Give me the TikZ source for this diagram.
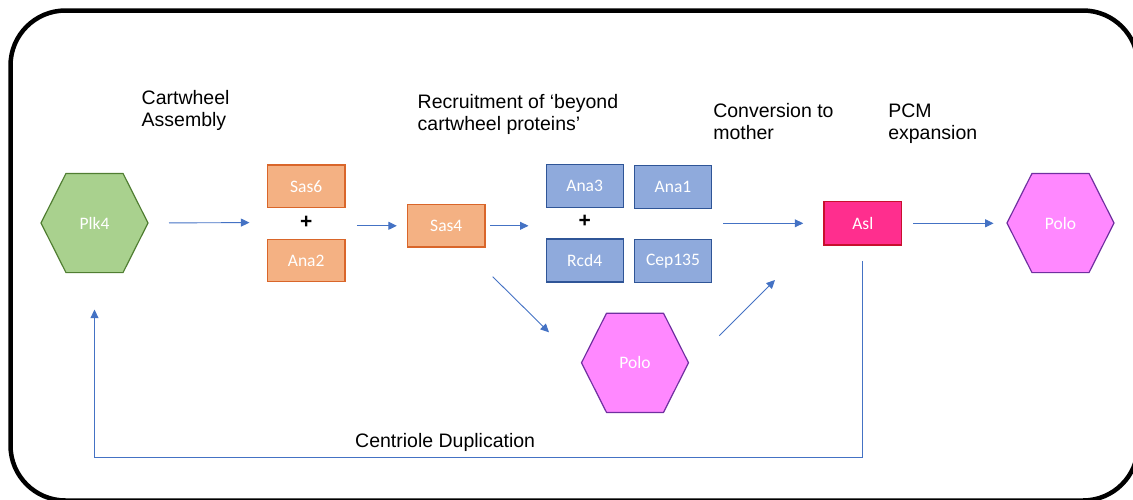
\documentclass[tikz,border=0pt]{standalone}
\usepackage{fontspec}
\setmainfont{Liberation Sans}
\newfontfamily\boxfont{Carlito}
\usetikzlibrary{arrows.meta,backgrounds,calc}
\definecolor{arrblue}{HTML}{4472C4}
\definecolor{orfill}{HTML}{F4B183}
\definecolor{ordraw}{HTML}{D9662A}
\definecolor{blfill}{HTML}{8FAADC}
\definecolor{bldraw}{HTML}{2F5597}
\definecolor{aslfill}{HTML}{FF2E8E}
\definecolor{asldraw}{HTML}{C8102E}
\definecolor{pofill}{HTML}{FF88FF}
\definecolor{podraw}{HTML}{7030A0}
\definecolor{grfill}{HTML}{A9D18E}
\definecolor{grdraw}{HTML}{507E32}
\tikzset{
  prot/.style={rectangle, inner sep=0pt, outer sep=0pt, line width=1.2pt,
    text=white, font=\boxfont\fontsize{17.5}{20}\selectfont},
  orbox/.style={prot, fill=orfill, draw=ordraw, minimum width=77.5pt, minimum height=42.5pt},
  blbox/.style={prot, fill=blfill, draw=bldraw, minimum width=77pt, minimum height=43pt},
  aslbox/.style={prot, fill=aslfill, draw=asldraw, minimum width=77.7pt, minimum height=43.3pt},
  hexnode/.style={prot, minimum width=107pt, minimum height=99.2pt},
  plussign/.style={inner sep=0pt, outer sep=0pt, minimum width=77.5pt,
    font=\bfseries\fontsize{21}{22}\selectfont},
  lbl/.style={inner sep=0pt, outer sep=0pt, anchor=north west, align=left,
    font=\fontsize{19.5}{22}\selectfont},
  arr/.style={draw=arrblue, line width=0.9pt, -{Triangle[length=8.5pt,width=8pt]}},
}
\begin{document}
\begin{tikzpicture}[x=1pt,y=-1pt]
\useasboundingbox (0,0) rectangle (1133,499);
\clip (0,0) rectangle (1133,499);
\draw[line width=4.5pt, rounded corners=55pt] (10.5,10.5) rectangle (1138,500.5);

% labels
\node[lbl] (lab1) at (141.7,90.5) {Cartwheel\\Assembly};
\node[lbl] (lab2) at (417.7,94.5) {Recruitment of ‘beyond\\cartwheel proteins’};
\node[lbl] (lab3) at (713.3,103.3) {Conversion to\\mother};
\node[lbl] (lab4) at (888.3,104) {PCM\\expansion};
\node[inner sep=0pt, anchor=base west, font=\fontsize{19.5}{22}\selectfont] (lab5) at (355,447) {Centriole Duplication};

% nodes
\node[hexnode] (plk4) at (94.5,223) {Plk4};
\node[orbox] (sas6) at (306.2,186.2) {Sas6};
\node[plussign] (plus1) at (306.2,222.5) {+};
\node[orbox] (ana2) at (306.2,260.5) {Ana2};
\node[orbox] (sas4) at (446.3,225.8) {Sas4};
\node[blbox] (ana3) at (584.7,186.3) {Ana3};
\node[blbox] (ana1) at (673,187) {Ana1};
\node[plussign, minimum width=77pt] (plus2) at (584.7,221.5) {+};
\node[blbox] (rcd4) at (584.7,260.5) {Rcd4};
\node[blbox] (cep135) at (673,261.3) {Cep135};
\node[aslbox] (asl) at (862.8,223.3) {Asl};
\node[hexnode] (polor) at (1060.5,223) {Polo};
\node[hexnode] (polom) at (635,362.8) {Polo};

\begin{pgfonlayer}{background}
\foreach \n/\f/\d in {plk4/grfill/grdraw, polor/pofill/podraw, polom/pofill/podraw}{
  \filldraw[fill=\f, draw=\d, line width=1.2pt, line join=round]
    (\n.west) -- ([xshift=25pt]\n.north west) -- ([xshift=-25pt]\n.north east)
    -- (\n.east) -- ([xshift=-25pt]\n.south east) -- ([xshift=25pt]\n.south west) -- cycle;
}
\end{pgfonlayer}

% connectors
\coordinate (a6s) at (492.7,276.7);
\coordinate (a6e) at (549,332.3);
\coordinate (a7s) at (719.3,335.7);
\coordinate (a7e) at (775,280);
\coordinate (fbline) at (0,457.5);

\draw[arr, shorten <=21pt, shorten >=18pt] (plk4.east) -- (plus1.west);
\draw[arr, shorten <=12pt, shorten >=10.7pt] (sas4.west -| plus1.east) -- (sas4.west);
\draw[arr, shorten <=5pt, shorten >=17.7pt] (sas4.east) -- (sas4.east -| plus2.west);
\draw[arr, shorten <=11.7pt, shorten >=20.7pt] (asl.west -| ana1.east) -- (asl.west);
\draw[arr, shorten <=11.6pt, shorten >=13.4pt] (asl.east) -- (asl.east -| polor.west);
\draw[arr] (a6s) -- (a6e);
\draw[arr] (a7s) -- (a7e);
\draw[arr, shorten <=16pt, shorten >=37pt] (asl.south) -- (asl.south |- fbline) -| (plk4.south);
\end{tikzpicture}
\end{document}
